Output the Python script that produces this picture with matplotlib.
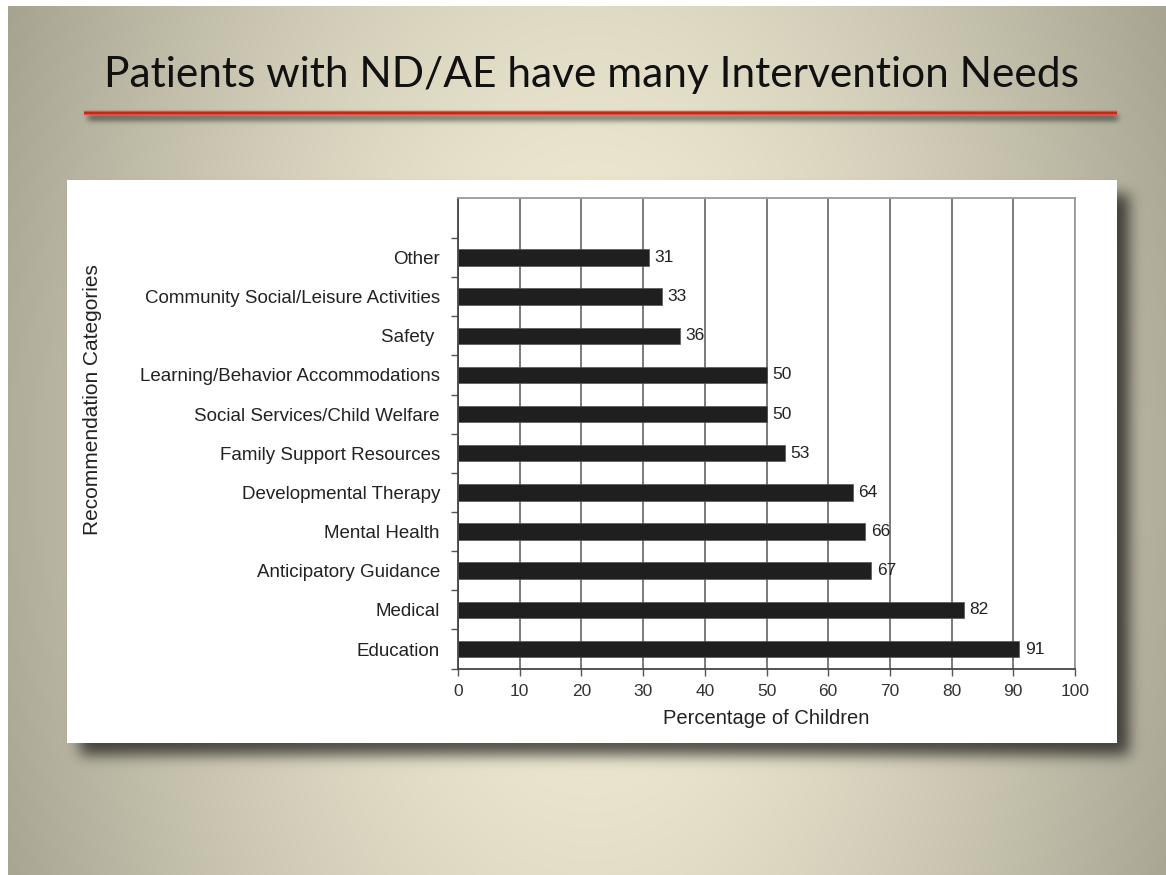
import numpy as np
import matplotlib
matplotlib.use("Agg")
import matplotlib.pyplot as plt
from matplotlib.lines import Line2D

# ---------------- data ----------------
categories = ["Education", "Medical", "Anticipatory Guidance", "Mental Health",
              "Developmental Therapy", "Family Support Resources",
              "Social Services/Child Welfare", "Learning/Behavior Accommodations",
              "Safety ", "Community Social/Leisure Activities", "Other"]
values = [91, 82, 67, 66, 64, 53, 50, 50, 36, 33, 31]
x_ticks = [0, 10, 20, 30, 40, 50, 60, 70, 80, 90, 100]
title = "Patients with ND/AE have many Intervention Needs"
x_label = "Percentage of Children"
y_label = "Recommendation Categories"

W, H = 1166, 875
fig = plt.figure(figsize=(W / 100, H / 100), dpi=100)

# ---------------- background (slide) ----------------
yy, xx = np.mgrid[0:H, 0:W].astype(float)
d = np.sqrt(((xx - 590) / 720.0) ** 2 + ((yy - 470) / 1250.0) ** 2)
d = np.clip(d, 0, 1.2) ** 1.4
c0 = np.array([0xf7, 0xf1, 0xd9]) / 255.0
c1 = np.array([0x97, 0x95, 0x84]) / 255.0
img = c0[None, None, :] + (c1 - c0)[None, None, :] * np.clip(d, 0, 1)[..., None]


def blurred_box(n, a, b, sigma):
    box = np.zeros(n)
    box[int(a):int(b)] = 1.0
    k = np.arange(-4 * sigma, 4 * sigma + 1)
    g = np.exp(-0.5 * (k / sigma) ** 2)
    g /= g.sum()
    return np.convolve(box, g, mode="same")


# panel shadow
sh = np.outer(blurred_box(H, 194, 755, 7), blurred_box(W, 80, 1129, 7))
img *= (1 - 0.65 * sh)[..., None]
# title line shadow
sh2 = np.outer(blurred_box(H, 114, 121, 2.5), blurred_box(W, 88, 1118, 3))
img *= (1 - 0.45 * sh2)[..., None]
# white panel
img[180:743, 67:1117, :] = 1.0
# white border strips of the screenshot
img[:6, :, :] = 1.0
img[:, :8, :] = 1.0

bg = fig.add_axes([0, 0, 1, 1])
bg.imshow(img, extent=(0, W, H, 0), interpolation="bilinear", aspect="auto")
bg.set_xlim(0, W)
bg.set_ylim(H, 0)
bg.axis("off")

# red title rule
bg.add_line(Line2D([84, 1117], [112.5, 112.5], color="#e4503e", lw=3.2,
                   solid_capstyle="butt"))
bg.add_line(Line2D([84, 1117], [112.5, 112.5], color="#b8231a", lw=1.2,
                   solid_capstyle="butt"))

# title
t = fig.text(591 / W, 1 - 86.5 / H, title, ha="center", va="baseline",
             fontsize=26, family="Lato", color="#111111")
fig.canvas.draw()
wpx = t.get_window_extent().width
t.set_fontsize(26 * 975.0 / wpx)

# ---------------- chart ----------------
ax_l, ax_r, ax_t, ax_b = 458, 1075, 198, 668.6
ax = fig.add_axes([ax_l / W, 1 - ax_b / H, (ax_r - ax_l) / W, (ax_b - ax_t) / H])
ax.set_facecolor("white")
pos = np.arange(len(categories))
ax.barh(pos, values, height=0.42, color="#1f1f1f", edgecolor="#555555",
        linewidth=0.5, zorder=3)
for p, v in zip(pos, values):
    ax.text(v + 0.9, p, str(v), va="center", ha="left", fontsize=12.5,
            family="Liberation Sans", color="#222222", zorder=4)

ax.set_xlim(0, 100)
ax.set_ylim(-0.5, 11.52)
ax.set_xticks(x_ticks)
ax.set_xticklabels([str(v) for v in x_ticks], family="Liberation Sans",
                   fontsize=12.5, color="#333333")
ax.set_yticks(pos)
ax.set_yticklabels(categories, family="Liberation Sans", fontsize=13.5,
                   color="#222222")
ax.set_yticks(np.arange(-0.5, 11, 1.0), minor=True)
ax.tick_params(axis="y", which="major", length=0, pad=13)
ax.tick_params(axis="y", which="minor", length=5, width=1, color="#555555",
               direction="out")
ax.tick_params(axis="x", which="major", length=5, width=1, color="#555555",
               direction="out", pad=6)
ax.grid(axis="x", color="#6f6f6f", linewidth=1.3, zorder=0)
ax.set_axisbelow(True)
for s in ["top", "right"]:
    ax.spines[s].set_color("#9a9a9a")
    ax.spines[s].set_linewidth(1.3)
for s in ["left", "bottom"]:
    ax.spines[s].set_color("#444444")
    ax.spines[s].set_linewidth(1.3)

ax.set_xlabel(x_label, family="Liberation Sans", fontsize=14.5,
              color="#222222", labelpad=7)
fig.text(93 / W, 1 - 400 / H, y_label, rotation=90, ha="center", va="center",
         family="Liberation Sans", fontsize=15, color="#222222")

fig.savefig("out.png", dpi=100)
